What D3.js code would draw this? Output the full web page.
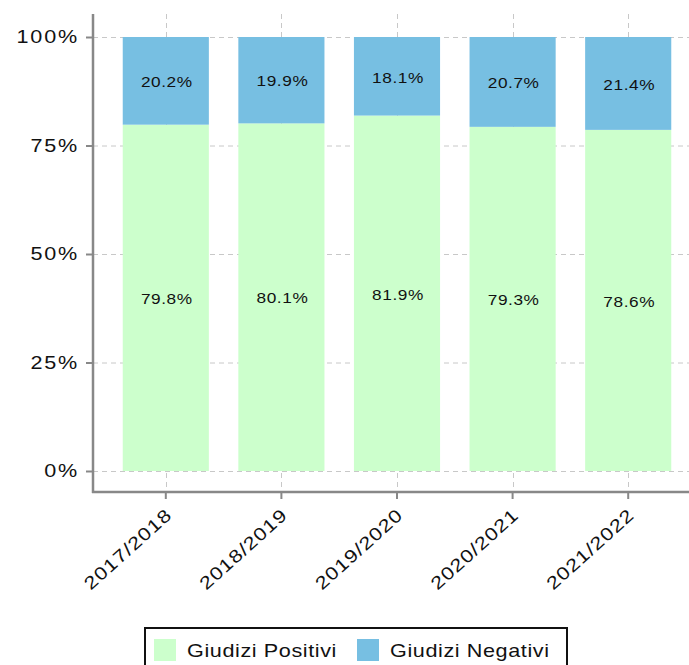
<!DOCTYPE html>
<html>
<head>
<meta charset="utf-8">
<script src="https://cdn.jsdelivr.net/npm/d3@7"></script>
<style>
  html, body { margin: 0; padding: 0; background: #fff; }
  svg { display: block; font-family: "Liberation Sans", Arial, sans-serif; }
</style>
</head>
<body>
<svg id="chart" width="689" height="665"></svg>
<script>
// School years and the share of positive / negative judgements (percent)
const categories = ["2017/2018", "2018/2019", "2019/2020", "2020/2021", "2021/2022"];
const positivi = [79.8, 80.1, 81.9, 79.3, 78.6];
const negativi = [20.2, 19.9, 18.1, 20.7, 21.4];
const yTicks = [0, 25, 50, 75, 100];
const seriesNames = ["Giudizi Positivi", "Giudizi Negativi"];
const seriesColors = ["#ccffcc", "#77bfe2"];

const svg = d3.select("#chart");
const FONT = "Liberation Sans, Arial, sans-serif";
const WIDE = 1.2; // horizontal stretch of the wide-set lettering

const axisLeftX = 93, axisBottomY = 492, axisTopY = 14, axisRightX = 689;

const x = d3.scaleBand()
  .domain(categories)
  .range([108, 686])
  .paddingInner(0.255)
  .paddingOuter(0.1275);

const y = d3.scaleLinear()
  .domain([0, 100])
  .range([471, 37]);

const rows = categories.map((c, i) => ({ cat: c, pos: positivi[i], neg: negativi[i] }));
const stack = d3.stack().keys(["pos", "neg"])(rows);

// Grid lines
const grid = svg.append("g").attr("stroke", "#c8c8c8").attr("stroke-dasharray", "5,4").attr("stroke-width", 1);
grid.selectAll("line.h").data(yTicks).join("line")
  .attr("x1", axisLeftX).attr("x2", axisRightX)
  .attr("y1", d => y(d) + 0.5).attr("y2", d => y(d) + 0.5);
grid.selectAll("line.v").data(categories).join("line")
  .attr("x1", d => Math.round(x(d) + x.bandwidth() / 2) + 0.5)
  .attr("x2", d => Math.round(x(d) + x.bandwidth() / 2) + 0.5)
  .attr("y1", axisTopY).attr("y2", axisBottomY);

// Stacked bars
svg.append("g").selectAll("g").data(stack).join("g")
  .attr("fill", (d, i) => seriesColors[i])
  .selectAll("rect").data(d => d).join("rect")
  .attr("x", d => x(d.data.cat))
  .attr("width", x.bandwidth())
  .attr("y", d => y(d[1]))
  .attr("height", d => y(d[0]) - y(d[1]));

// Value labels centred in each segment
svg.append("g").selectAll("g").data(stack).join("g")
  .selectAll("text").data(d => d).join("text")
  .attr("transform", d => `translate(${x(d.data.cat) + x.bandwidth() / 2 + 1},${(y(d[0]) + y(d[1])) / 2 + 1}) scale(1.15,1)`)
  .attr("dy", "0.35em")
  .attr("text-anchor", "middle")
  .attr("font-family", FONT)
  .attr("font-size", 15)
  .attr("letter-spacing", "0.5")
  .attr("fill", "#111")
  .text(d => (d[1] - d[0]).toFixed(1) + "%");

// Y axis
const yAxis = svg.append("g").attr("transform", `translate(${axisLeftX},0)`)
  .call(d3.axisLeft(y).tickValues(yTicks).tickSize(7).tickFormat(d => d + "%"));
yAxis.select(".domain").remove();
yAxis.selectAll(".tick line").attr("stroke", "#888").attr("stroke-width", 2);
yAxis.selectAll(".tick text")
  .attr("x", 0)
  .attr("transform", `translate(-14,0) scale(${WIDE},1)`)
  .attr("font-size", 18).attr("letter-spacing", "1.5").attr("fill", "#111")
  .attr("font-family", FONT);
svg.append("line").attr("x1", axisLeftX).attr("x2", axisLeftX)
  .attr("y1", axisTopY).attr("y2", axisBottomY + 1)
  .attr("stroke", "#888").attr("stroke-width", 2.5);

// X axis
const xAxis = svg.append("g").attr("transform", `translate(0,${axisBottomY})`)
  .call(d3.axisBottom(x).tickSize(7));
xAxis.select(".domain").remove();
xAxis.selectAll(".tick line").attr("stroke", "#888").attr("stroke-width", 2);
xAxis.selectAll(".tick text")
  .attr("x", 0).attr("y", 0)
  .attr("font-size", 18).attr("letter-spacing", "0.8").attr("fill", "#111")
  .attr("font-family", FONT)
  .attr("text-anchor", "end")
  .attr("dy", "0.35em")
  .attr("transform", `translate(3,20) rotate(-42) scale(${WIDE},1)`);
svg.append("line").attr("x1", axisLeftX - 1).attr("x2", axisRightX)
  .attr("y1", axisBottomY).attr("y2", axisBottomY)
  .attr("stroke", "#888").attr("stroke-width", 2.5);

// Legend
const legend = svg.append("g");
legend.append("rect").attr("x", 145).attr("y", 628).attr("width", 422).attr("height", 45)
  .attr("fill", "#fff").attr("stroke", "#111").attr("stroke-width", 2);
const legendX = [154, 357];
seriesNames.forEach((name, i) => {
  legend.append("rect").attr("x", legendX[i]).attr("y", 639).attr("width", 22).attr("height", 22)
    .attr("fill", seriesColors[i]);
  legend.append("text")
    .attr("transform", `translate(${legendX[i] + 33},651) scale(${WIDE},1)`)
    .attr("dy", "0.35em")
    .attr("font-family", FONT)
    .attr("font-size", 18).attr("letter-spacing", "0.5").attr("fill", "#111").text(name);
});
</script>
</body>
</html>
